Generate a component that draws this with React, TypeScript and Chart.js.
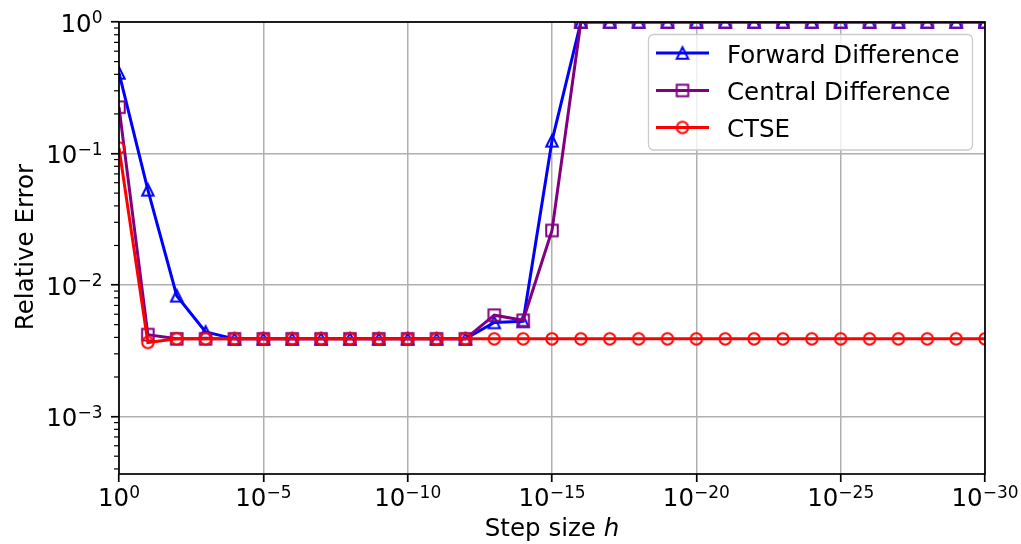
import React, { useEffect, useRef } from "react";
import { Chart, registerables } from "chart.js";

Chart.register(...registerables);

// ---------- data ----------
const stepSizes = [
  1, 1e-1, 1e-2, 1e-3, 1e-4, 1e-5, 1e-6, 1e-7, 1e-8, 1e-9, 1e-10,
  1e-11, 1e-12, 1e-13, 1e-14, 1e-15, 1e-16, 1e-17, 1e-18, 1e-19, 1e-20,
  1e-21, 1e-22, 1e-23, 1e-24, 1e-25, 1e-26, 1e-27, 1e-28, 1e-29, 1e-30,
];
const forwardError = [
  0.41, 0.053, 0.0083, 0.0044, 0.0039, 0.0039, 0.0039, 0.0039, 0.0039, 0.0039, 0.0039,
  0.0039, 0.0039, 0.0052, 0.0053, 0.125, 1, 1, 1, 1, 1,
  1, 1, 1, 1, 1, 1, 1, 1, 1, 1,
];
const centralError = [
  0.225, 0.0042, 0.0039, 0.0039, 0.0039, 0.0039, 0.0039, 0.0039, 0.0039, 0.0039, 0.0039,
  0.0039, 0.0039, 0.0059, 0.0054, 0.026, 1, 1, 1, 1, 1,
  1, 1, 1, 1, 1, 1, 1, 1, 1, 1,
];
const ctseError = [
  0.11, 0.00366, 0.0039, 0.0039, 0.0039, 0.0039, 0.0039, 0.0039, 0.0039, 0.0039, 0.0039,
  0.0039, 0.0039, 0.0039, 0.0039, 0.0039, 0.0039, 0.0039, 0.0039, 0.0039, 0.0039,
  0.0039, 0.0039, 0.0039, 0.0039, 0.0039, 0.0039, 0.0039, 0.0039, 0.0039, 0.0039,
];
const seriesNames = ["Forward Difference", "Central Difference", "CTSE"];
const xTickValues = [1, 1e-5, 1e-10, 1e-15, 1e-20, 1e-25, 1e-30];
const xTickExponents = ["0", "\u22125", "\u221210", "\u221215", "\u221220", "\u221225", "\u221230"];
const yTickValues = [1e-3, 1e-2, 1e-1, 1];
const yTickExponents = ["\u22123", "\u22122", "\u22121", "0"];
const xTitle = "Step size ";
const xTitleItalic = "h";
const yTitle = "Relative Error";

// ---------- style ----------
const FONT = '"DejaVu Sans", "Liberation Sans", sans-serif';
const FS = 24.5;
const FS_SUP = 17;
const COLORS = ["#0000ff", "#800080", "#ff0000"];
const SHAPES = ["triangle", "square", "circle"];
const LINE_W = 3;

function makeMarker(shape: string, color: string, size = 11.5, lw = 2) {
  const dim = 20;
  const c = document.createElement("canvas");
  c.width = dim;
  c.height = dim;
  const ctx = c.getContext("2d")!;
  ctx.strokeStyle = color;
  ctx.lineWidth = lw;
  ctx.lineJoin = "miter";
  const cx = dim / 2;
  const cy = dim / 2;
  const h = size / 2;
  ctx.beginPath();
  if (shape === "triangle") {
    ctx.moveTo(cx, cy - h);
    ctx.lineTo(cx + h, cy + h);
    ctx.lineTo(cx - h, cy + h);
    ctx.closePath();
  } else if (shape === "square") {
    ctx.rect(cx - h, cy - h, size, size);
  } else {
    ctx.arc(cx, cy, h, 0, Math.PI * 2);
  }
  ctx.stroke();
  return c;
}

function drawPow(
  ctx: CanvasRenderingContext2D,
  exp: string,
  x: number,
  baseline: number,
  align: "center" | "right"
) {
  ctx.textAlign = "left";
  ctx.textBaseline = "alphabetic";
  ctx.font = `${FS}px ${FONT}`;
  const wb = ctx.measureText("10").width;
  ctx.font = `${FS_SUP}px ${FONT}`;
  const we = ctx.measureText(exp).width;
  const total = wb + we;
  const left = align === "center" ? x - total / 2 : x - total;
  ctx.font = `${FS}px ${FONT}`;
  ctx.fillText("10", left, baseline);
  ctx.font = `${FS_SUP}px ${FONT}`;
  ctx.fillText(exp, left + wb, baseline - 8.5);
}

export default function App() {
  const ref = useRef<HTMLCanvasElement>(null);

  useEffect(() => {
    const markers = SHAPES.map((s, i) => makeMarker(s, COLORS[i]));
    const seriesData = [forwardError, centralError, ctseError];

    const decor = {
      id: "decor",
      afterDraw(chart: any) {
        const ctx: CanvasRenderingContext2D = chart.ctx;
        const a = chart.chartArea;
        const xs = chart.scales.x;
        const ys = chart.scales.y;
        ctx.save();

        // spines
        ctx.strokeStyle = "#000";
        ctx.lineWidth = 1.7;
        ctx.strokeRect(a.left, a.top, a.right - a.left, a.bottom - a.top);

        // minor y ticks
        ctx.lineWidth = 1.2;
        for (let d = -4; d <= 0; d++) {
          for (let k = 2; k <= 9; k++) {
            const v = k * Math.pow(10, d);
            if (v < ys.min || v > ys.max) continue;
            const py = ys.getPixelForValue(v);
            ctx.beginPath();
            ctx.moveTo(a.left - 5, py);
            ctx.lineTo(a.left, py);
            ctx.stroke();
          }
        }

        // tick labels
        ctx.fillStyle = "#000";
        xTickValues.forEach((v, i) => {
          drawPow(ctx, xTickExponents[i], xs.getPixelForValue(v), a.bottom + 32, "center");
        });
        yTickValues.forEach((v, i) => {
          drawPow(ctx, yTickExponents[i], a.left - 16.5, ys.getPixelForValue(v) + 9.5, "right");
        });

        // axis titles
        ctx.textBaseline = "alphabetic";
        ctx.font = `${FS}px ${FONT}`;
        const w1 = ctx.measureText(xTitle).width;
        ctx.font = `italic ${FS}px ${FONT}`;
        const w2 = ctx.measureText(xTitleItalic).width;
        const cx = (a.left + a.right) / 2;
        const sx = cx - (w1 + w2) / 2;
        ctx.textAlign = "left";
        ctx.font = `${FS}px ${FONT}`;
        ctx.fillText(xTitle, sx, 536);
        ctx.font = `italic ${FS}px ${FONT}`;
        ctx.fillText(xTitleItalic, sx + w1, 536);

        ctx.save();
        ctx.translate(33, (a.top + a.bottom) / 2 - 1);
        ctx.rotate(-Math.PI / 2);
        ctx.font = `${FS}px ${FONT}`;
        ctx.textAlign = "center";
        ctx.fillText(yTitle, 0, 0);
        ctx.restore();

        // legend
        const bx = 648.5, by = 34.5, bw = 324, bh = 115.5, r = 5;
        ctx.beginPath();
        ctx.moveTo(bx + r, by);
        ctx.lineTo(bx + bw - r, by);
        ctx.arcTo(bx + bw, by, bx + bw, by + r, r);
        ctx.lineTo(bx + bw, by + bh - r);
        ctx.arcTo(bx + bw, by + bh, bx + bw - r, by + bh, r);
        ctx.lineTo(bx + r, by + bh);
        ctx.arcTo(bx, by + bh, bx, by + bh - r, r);
        ctx.lineTo(bx, by + r);
        ctx.arcTo(bx, by, bx + r, by, r);
        ctx.closePath();
        ctx.fillStyle = "rgba(255,255,255,0.8)";
        ctx.fill();
        ctx.strokeStyle = "#cccccc";
        ctx.lineWidth = 1.3;
        ctx.stroke();

        const rows = [53, 90.5, 127.5];
        seriesNames.forEach((name, i) => {
          const ry = rows[i];
          ctx.strokeStyle = COLORS[i];
          ctx.lineWidth = LINE_W;
          ctx.beginPath();
          ctx.moveTo(656, ry);
          ctx.lineTo(709, ry);
          ctx.stroke();
          const m = markers[i];
          ctx.drawImage(m, 682.5 - m.width / 2, ry - m.height / 2);
          ctx.fillStyle = "#000";
          ctx.font = `${FS}px ${FONT}`;
          ctx.textAlign = "left";
          ctx.textBaseline = "alphabetic";
          ctx.fillText(name, 727, ry + 9.5);
        });

        ctx.restore();
      },
    };

    const chart = new Chart(ref.current!, {
      type: "line",
      data: {
        datasets: seriesNames.map((name, i) => ({
          label: name,
          data: stepSizes.map((h, j) => ({ x: h, y: seriesData[i][j] })),
          borderColor: COLORS[i],
          backgroundColor: COLORS[i],
          borderWidth: LINE_W,
          pointStyle: markers[i] as any,
          pointRadius: 6,
          pointHoverRadius: 6,
          tension: 0,
          fill: false,
          order: 2 - i,
          clip: 0 as any,
        })),
      },
      options: {
        animation: false,
        responsive: false,
        events: [],
        layout: { padding: { left: 0, top: 22, right: 36, bottom: 0 } },
        plugins: {
          legend: { display: false },
          tooltip: { enabled: false },
        },
        scales: {
          x: {
            type: "logarithmic",
            reverse: true,
            min: 1e-30,
            max: 1,
            afterBuildTicks: (s: any) => {
              s.ticks = xTickValues.map((v) => ({ value: v }));
            },
            afterFit: (s: any) => {
              s.height = 70;
            },
            ticks: { display: false },
            border: { display: false },
            grid: {
              color: "#b0b0b0",
              lineWidth: 1.5,
              drawTicks: true,
              tickLength: 8,
              tickColor: "#000",
              tickWidth: 1.7,
            },
          },
          y: {
            type: "logarithmic",
            min: 3.66e-4,
            max: 1,
            afterBuildTicks: (s: any) => {
              s.ticks = yTickValues.map((v) => ({ value: v }));
            },
            afterFit: (s: any) => {
              s.width = 119;
            },
            ticks: { display: false },
            border: { display: false },
            grid: {
              color: "#b0b0b0",
              lineWidth: 1.5,
              drawTicks: true,
              tickLength: 8,
              tickColor: "#000",
              tickWidth: 1.7,
            },
          },
        },
      } as any,
      plugins: [decor],
    });
    return () => chart.destroy();
  }, []);

  return (
    <div style={{ position: "fixed", left: 0, top: 0, width: 1021, height: 544, background: "#fff" }}>
      <canvas ref={ref} width={1021} height={544} style={{ display: "block", width: 1021, height: 544 }} />
    </div>
  );
}
